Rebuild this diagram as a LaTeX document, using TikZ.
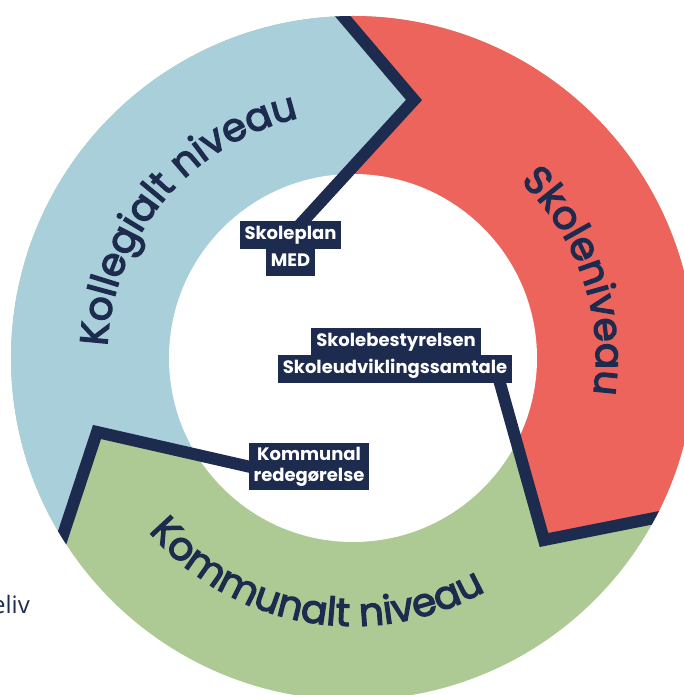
\documentclass[tikz,border=0pt]{standalone}
\usepackage{fontspec}
\usetikzlibrary{decorations.text,calc}
\newfontfamily\ringfont{Poppins}[FakeBold=3.2]
\newfontfamily\boxfont{Poppins}
\newfontfamily\plainfont{Open Sans}
\definecolor{navy}{HTML}{1D2B4E}
\definecolor{ringblue}{HTML}{A9D0DA}
\definecolor{ringred}{HTML}{EC645C}
\definecolor{ringgreen}{HTML}{AECA94}
\pgfdeclarelayer{back}
\pgfsetlayers{back,main}
\begin{document}
\begin{tikzpicture}[x=1pt,y=1pt,
  lbl/.style={fill=navy, text=white, font=\boxfont\bfseries\fontsize{18}{20}\selectfont,
    inner xsep=5pt, inner ysep=6pt, text height=12.5pt, text depth=3.5pt, anchor=center},
  lbltwo/.style={fill=navy, text=white, font=\boxfont\bfseries\fontsize{18}{21}\selectfont,
    inner xsep=5pt, inner ysep=4pt, align=center, anchor=center},
  divider/.style={draw=navy, line width=12pt, line join=miter}
]
\useasboundingbox (-353,-337) rectangle (331,358);
% label boxes
\node[lbl] (skoleplan) at (-62.5,123) {Skoleplan};
\node[lbl] (med) at (-62.5,95.5) {MED};
\node[lbl] (skobest) at (43,16) {Skolebestyrelsen};
\node[lbl] (skoud) at (42,-11) {Skoleudviklingssamtale};
\node[lbltwo] (kommunal) at (-44,-108.5) {Kommunal\\redegørelse};
% divider points
\coordinate (o1) at (-41,378);
\coordinate (a1) at (61,258);
\coordinate (c2) at (191,-182);
\coordinate (o2) at (367,-147);
\coordinate (c3) at (-256,-74);
\coordinate (o3) at (-351,-362);
\begin{pgfonlayer}{back}
\begin{scope}
\clip (0,0) circle[radius=342pt];
\fill[ringgreen] (-360,-360) rectangle (360,360);
\fill[ringred] (o1) -- (a1) -- (skoleplan.center) -- (0,0) -- (147,-25)
  -- (c2) -- (o2) -- (400,-147) -- (400,400) -- (-41,400) -- cycle;
\fill[ringblue] (o1) -- (a1) -- (skoleplan.center) -- (0,0) -- (kommunal.west)
  -- (c3) -- (o3) -- (-400,-362) -- (-400,400) -- (-41,400) -- cycle;
\fill[white] (0,0) circle[radius=184pt];
\draw[divider] (o1) -- (a1) -- (skoleplan.center);
\draw[divider, shorten <=-8pt] (skoud.south -| 147,0) -- (c2) -- (o2);
\draw[divider, shorten >=-8pt] (o3) -- (c3) -- (kommunal.west);
\end{scope}
\end{pgfonlayer}
% ring texts
\path[decorate, decoration={text along path, text align=center,
  text={|\ringfont\fontsize{39}{42}\selectfont\color{navy}|Kollegialt niveau}}]
  (190:246pt) arc[start angle=190, end angle=90, radius=246pt];
\path[decorate, decoration={text along path, text align=center,
  text={|\ringfont\fontsize{39}{42}\selectfont\color{navy}|Skoleniveau}}]
  (69:243pt) arc[start angle=69, end angle=-31, radius=243pt];
\path[decorate, decoration={text along path, text align=center,
  text={|\ringfont\fontsize{39}{42}\selectfont\color{navy}|Kommunalt niveau}}]
  (210:268pt) arc[start angle=210, end angle=310, radius=268pt];
\node[font=\plainfont\fontsize{24}{28}\selectfont, text=navy, anchor=base east, inner sep=0pt]
  (eliv) at (-323,-255) {eliv};
\end{tikzpicture}
\end{document}
